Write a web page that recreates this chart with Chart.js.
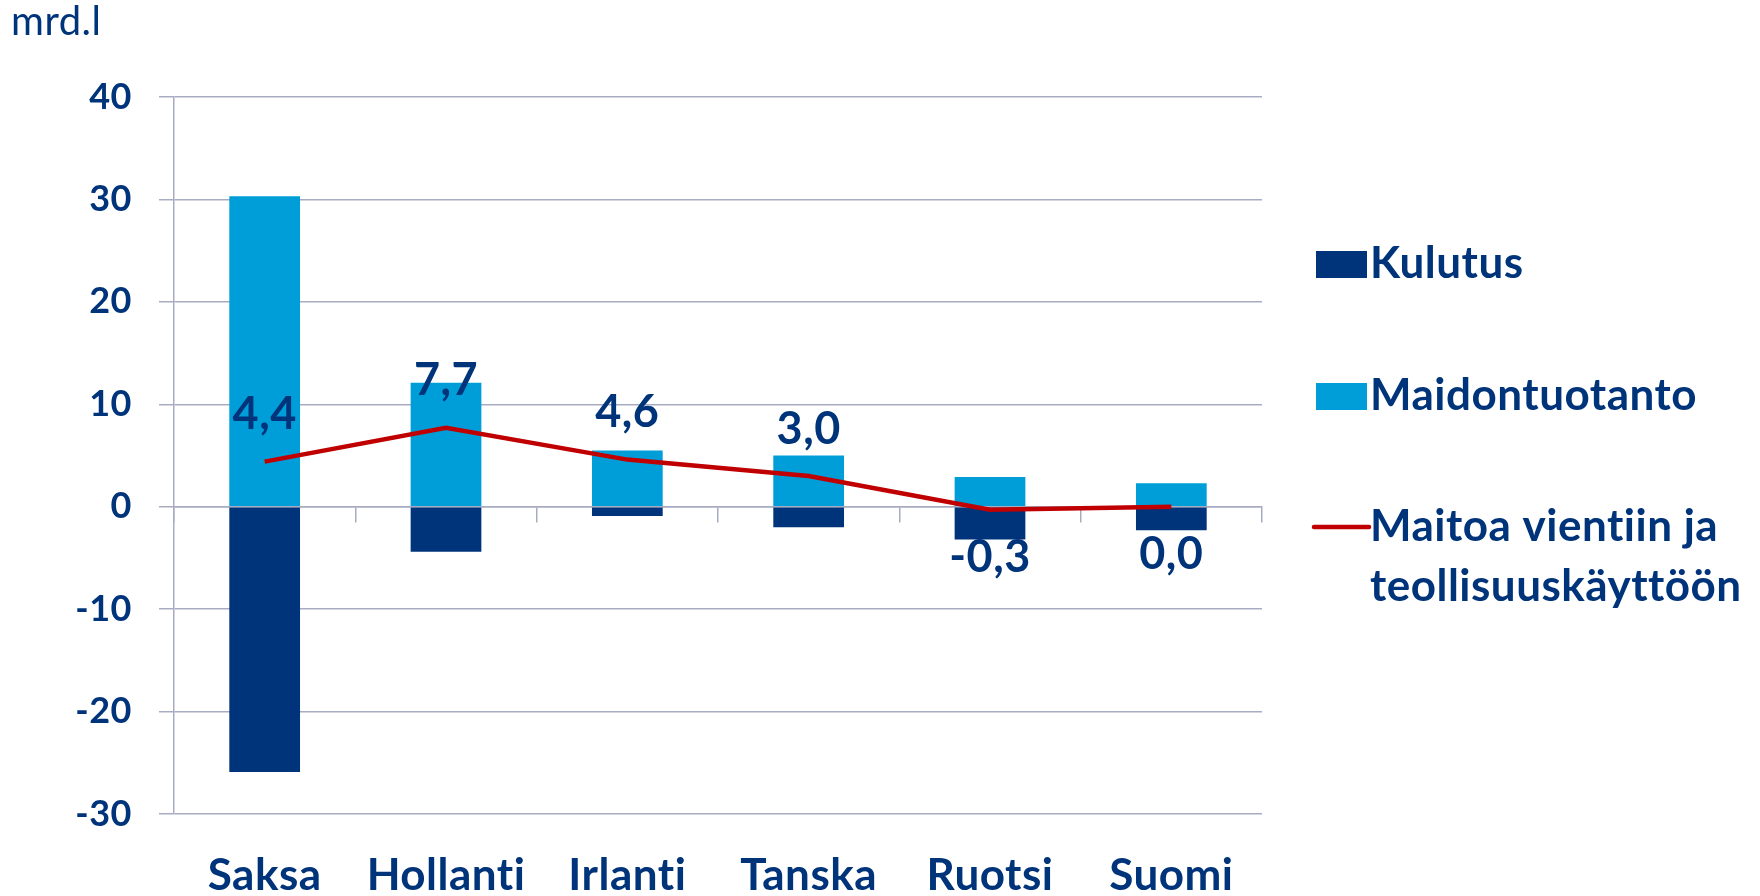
<!DOCTYPE html>
<html>
<head>
<meta charset="utf-8">
<script src="https://cdn.jsdelivr.net/npm/chart.js@4.4.1/dist/chart.umd.min.js"></script>
<style>
  html, body { margin: 0; padding: 0; background: #ffffff; }
  #wrap { width: 1760px; height: 896px; position: relative; }
</style>
</head>
<body>
<div id="wrap"><canvas id="chart"></canvas></div>
<script>
// Data (mrd. litraa)
const categories = ['Saksa', 'Hollanti', 'Irlanti', 'Tanska', 'Ruotsi', 'Suomi'];
const kulutus = [-25.9, -4.4, -0.9, -2.0, -3.2, -2.3];
const maidontuotanto = [30.3, 12.1, 5.5, 5.0, 2.9, 2.3];
const vienti = [4.4, 7.7, 4.6, 3.0, -0.3, 0.0];
const yMin = -30;
const yMax = 40;
const yStep = 10;
const unitLabel = 'mrd.l';
const seriesNames = ['Kulutus', 'Maidontuotanto', 'Maitoa vientiin ja teollisuuskäyttöön'];
const legendLines = [['Kulutus'], ['Maidontuotanto'], ['Maitoa vientiin ja', 'teollisuuskäyttöön']];

const NAVY = '#00347a';
const CYAN = '#009ed8';
const RED = '#c00000';
const GRID = '#a8acc2';
const FONT = 'Lato, "Open Sans", sans-serif';

function fmt(v) {
  return v.toFixed(1).replace('.', ',');
}

// Latossa on "ti"-ligatuuri, pieni välistys poistaa sen
const noLigatures = {
  id: 'noLigatures',
  beforeDraw(chart) {
    chart.ctx.letterSpacing = '0.5px';
  }
};

// Yksikkö, arvot viivan päällä ja selite
const extras = {
  id: 'extras',
  afterDraw(chart) {
    const ctx = chart.ctx;
    const area = chart.chartArea;
    ctx.save();
    ctx.letterSpacing = '0.5px';

    // yksikkö vasemmassa yläkulmassa
    ctx.fillStyle = NAVY;
    ctx.font = '40px ' + FONT;
    ctx.textAlign = 'left';
    ctx.textBaseline = 'alphabetic';
    ctx.fillText(unitLabel, 11, 35);

    // arvot viivalle
    const meta = chart.getDatasetMeta(2);
    ctx.font = 'bold 45px ' + FONT;
    ctx.textAlign = 'center';
    ctx.textBaseline = 'middle';
    meta.data.forEach((pt, i) => {
      const v = vienti[i];
      const y = v > 0 ? pt.y - 47 : pt.y + 48;
      ctx.fillText(fmt(v), pt.x, y);
    });

    // selite
    const rowY = [264, 396, 527];
    const boxX = area.right + 54;
    const textX = area.right + 108;
    ctx.font = 'bold 44px ' + FONT;
    ctx.textAlign = 'left';
    chart.data.datasets.forEach((ds, i) => {
      const y = rowY[i];
      if (ds.type === 'line') {
        ctx.strokeStyle = ds.borderColor;
        ctx.lineWidth = 4.5;
        ctx.lineCap = 'round';
        ctx.beginPath();
        ctx.moveTo(boxX - 2, y);
        ctx.lineTo(boxX + 53, y);
        ctx.stroke();
      } else {
        ctx.fillStyle = ds.backgroundColor;
        ctx.fillRect(boxX, y - 13, 51, 27);
      }
      ctx.fillStyle = NAVY;
      legendLines[i].forEach((line, j) => {
        ctx.fillText(line, textX, y + j * 60);
      });
    });
    ctx.restore();
  }
};

new Chart(document.getElementById('chart'), {
  type: 'bar',
  data: {
    labels: categories,
    datasets: [
      {
        label: seriesNames[0],
        data: kulutus,
        backgroundColor: NAVY,
        order: 1,
        barPercentage: 0.39,
        categoryPercentage: 1
      },
      {
        label: seriesNames[1],
        data: maidontuotanto,
        backgroundColor: CYAN,
        order: 1,
        barPercentage: 0.39,
        categoryPercentage: 1
      },
      {
        type: 'line',
        label: seriesNames[2],
        data: vienti,
        borderColor: RED,
        backgroundColor: RED,
        borderWidth: 4.5,
        pointRadius: 0,
        tension: 0,
        stack: 'line',
        order: 0
      }
    ]
  },
  plugins: [noLigatures, extras],
  options: {
    responsive: true,
    maintainAspectRatio: false,
    animation: false,
    layout: { padding: { left: 0, right: 498, top: 97, bottom: 0 } },
    plugins: {
      legend: { display: false },
      tooltip: { enabled: false },
      title: { display: false }
    },
    scales: {
      x: {
        stacked: true,
        grid: { display: false },
        border: { display: false },
        ticks: {
          color: NAVY,
          padding: 27,
          font: { family: FONT, size: 44, weight: 'bold' }
        },
        afterFit(scale) { scale.height = 82; }
      },
      x2: {
        axis: 'x',
        type: 'category',
        position: { y: 0 },
        offset: true,
        grid: {
          offset: true,
          drawOnChartArea: false,
          drawTicks: true,
          tickLength: 15,
          color: GRID,
          lineWidth: 1.5
        },
        border: { display: true, color: GRID, width: 1.5 },
        ticks: { display: false }
      },
      y: {
        stacked: true,
        min: yMin,
        max: yMax,
        ticks: {
          stepSize: yStep,
          color: NAVY,
          padding: 27,
          font: { family: FONT, size: 36, weight: 'bold' }
        },
        grid: { color: GRID, lineWidth: 1.5, tickLength: 15 },
        border: { color: GRID, width: 1.5 },
        afterFit(scale) { scale.width = 174; }
      }
    }
  }
});
</script>
</body>
</html>
